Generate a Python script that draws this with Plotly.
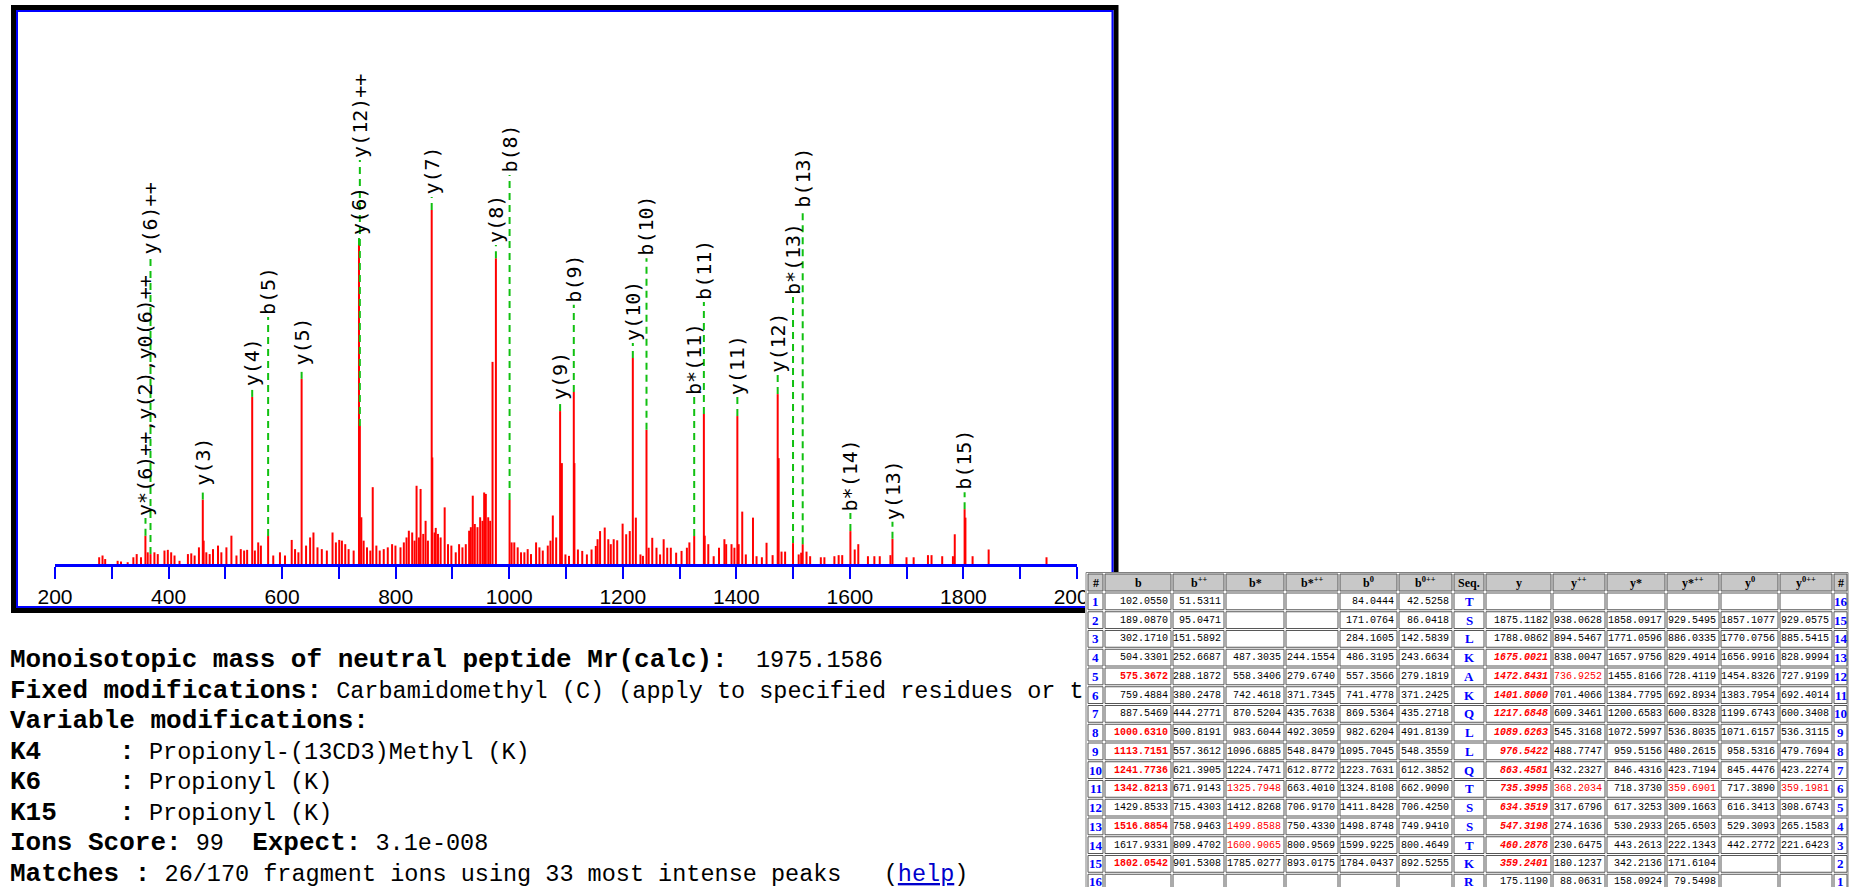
import plotly.graph_objects as go

W, H = 1853, 887

# ---------------- MS/MS spectrum: m/z and relative intensity (%) ----------------
peak_mz = [
    277.8, 283.7, 288.4, 310.3, 316.2, 328.0, 338.0, 343.9, 351.5, 359.24,
    363.3, 368.20, 375.1, 381.0, 392.8, 398.7, 404.6, 410.5, 419.3, 434.1,
    440.0, 445.9, 453.5, 460.29, 461.8, 466.5, 472.4, 478.3, 487.1, 493.0,
    501.9, 510.7, 519.6, 527.2, 533.1, 538.4, 547.32, 552.0, 557.9, 562.6,
    575.37, 584.4, 596.2, 605.1, 616.9, 622.8, 628.7, 634.35, 642.2, 649.3,
    655.2, 662.3, 669.9, 678.8, 688.8, 694.7, 700.6, 705.3, 711.2, 717.1,
    726.0, 735.40, 736.93, 739.5, 743.6, 749.5, 755.4, 759.6, 766.0, 771.9,
    779.0, 786.1, 793.7, 799.6, 808.5, 814.4, 819.1, 823.2, 829.1, 833.3,
    836.8, 841.0, 843.9, 848.6, 852.7, 856.8, 863.46, 864.5, 868.6, 870.6,
    874.5, 879.2, 886.3, 892.2, 898.1, 905.8, 911.7, 917.6, 923.5, 929.4,
    932.4, 935.8, 939.4, 944.1, 948.8, 952.9, 955.9, 958.8, 963.0, 966.5,
    970.6, 976.54, 1000.63, 1004.2, 1008.9, 1014.9, 1020.8, 1026.7, 1032.5, 1038.4,
    1047.3, 1053.2, 1059.1, 1067.9, 1072.6, 1076.8, 1082.7, 1089.63, 1092.7, 1099.0,
    1105.3, 1113.72, 1114.8, 1121.0, 1128.6, 1136.8, 1145.0, 1152.5, 1155.6, 1160.0,
    1168.2, 1174.5, 1178.9, 1184.0, 1190.2, 1199.7, 1206.0, 1212.3, 1217.68, 1223.0,
    1231.1, 1235.5, 1241.77, 1245.6, 1251.9, 1259.4, 1265.7, 1272.0, 1278.3, 1284.6,
    1294.0, 1303.5, 1312.9, 1317.3, 1325.79, 1342.82, 1344.3, 1350.6, 1360.1, 1369.5,
    1379.0, 1382.1, 1391.5, 1396.6, 1401.81, 1404.1, 1410.4, 1416.7, 1429.3, 1435.6,
    1445.0, 1453.2, 1463.9, 1472.84, 1474.5, 1479.6, 1485.9, 1499.86, 1509.8, 1514.2,
    1516.89, 1523.6, 1530.0, 1548.8, 1555.1, 1572.7, 1580.2, 1586.5, 1600.91, 1608.5,
    1614.8, 1631.8, 1643.1, 1652.6, 1671.4, 1675.00, 1699.7, 1712.3, 1737.5, 1743.8,
    1762.6, 1781.5, 1784.7, 1802.05, 1803.5, 1816.1, 1844.4, 1946.3,
]
peak_int = [
    1.9, 2.4, 1.4, 0.9, 0.7, 0.5, 1.9, 2.8, 1.9, 8.0,
    3.3, 2.8, 3.3, 2.8, 3.8, 4.0, 3.3, 2.4, 0.9, 2.8,
    3.0, 2.4, 4.7, 18.2, 6.6, 3.3, 2.8, 4.2, 5.2, 3.3,
    4.7, 8.0, 2.4, 4.2, 3.8, 4.0, 47.2, 3.8, 6.1, 5.2,
    7.9, 2.4, 3.3, 2.4, 6.8, 4.2, 3.3, 52.3, 5.2, 7.5,
    8.9, 4.7, 4.2, 3.8, 8.9, 6.1, 6.8, 6.6, 5.6, 4.2,
    3.8, 90.1, 39.0, 13.2, 6.6, 4.7, 3.8, 21.7, 5.2, 3.8,
    4.2, 4.7, 5.6, 5.2, 4.7, 6.1, 7.5, 9.4, 8.9, 6.6,
    22.1, 7.5, 21.2, 8.5, 12.2, 6.6, 100.0, 30.1, 8.9, 10.2,
    8.5, 7.5, 16.0, 5.6, 5.2, 3.3, 5.6, 4.7, 5.6, 9.4,
    10.4, 19.3, 11.3, 10.4, 13.2, 12.2, 20.2, 19.8, 13.2, 12.2,
    57.1, 86.4, 18.1, 6.1, 6.1, 4.7, 3.3, 3.3, 4.2, 2.8,
    6.1, 4.7, 3.8, 5.2, 6.6, 13.7, 7.5, 43.2, 28.5, 2.7,
    2.3, 48.6, 28.5, 4.1, 3.7, 2.7, 4.1, 5.1, 7.0, 9.3,
    10.3, 7.0, 5.6, 7.0, 6.7, 11.4, 8.4, 9.3, 58.2, 13.1,
    2.7, 2.3, 37.9, 4.6, 7.4, 4.6, 2.7, 7.0, 4.6, 4.6,
    3.2, 3.7, 4.6, 6.1, 7.9, 42.4, 8.0, 5.6, 2.2, 4.6,
    7.0, 5.6, 5.6, 4.6, 41.8, 5.6, 14.8, 2.7, 13.1, 2.2,
    1.9, 6.0, 2.5, 48.0, 29.9, 3.5, 3.5, 5.9, 2.7, 3.2,
    5.6, 3.5, 2.2, 1.9, 1.9, 2.2, 2.5, 2.5, 9.3, 4.1,
    5.6, 2.2, 2.2, 2.2, 2.5, 7.1, 1.9, 1.9, 2.5, 2.5,
    2.2, 2.2, 8.4, 15.5, 13.1, 2.2, 4.1, 1.9,
]

x_ticks = [200, 400, 600, 800, 1000, 1200, 1400, 1600, 1800, 2000]

# ---------------- fragment ion table ----------------
seq = ["T", "S", "L", "K", "A", "K", "Q", "L", "L", "Q", "T", "S", "S", "T", "K", "R"]
b_ion = [102.0550, 189.0870, 302.1710, 504.3301, 575.3672, 759.4884, 887.5469, 1000.6310,
         1113.7151, 1241.7736, 1342.8213, 1429.8533, 1516.8854, 1617.9331, 1802.0542, None]
b_2plus = [51.5311, 95.0471, 151.5892, 252.6687, 288.1872, 380.2478, 444.2771, 500.8191,
           557.3612, 621.3905, 671.9143, 715.4303, 758.9463, 809.4702, 901.5308, None]
b_star = [None, None, None, 487.3035, 558.3406, 742.4618, 870.5204, 983.6044,
          1096.6885, 1224.7471, 1325.7948, 1412.8268, 1499.8588, 1600.9065, 1785.0277, None]
b_star_2plus = [None, None, None, 244.1554, 279.6740, 371.7345, 435.7638, 492.3059,
                548.8479, 612.8772, 663.4010, 706.9170, 750.4330, 800.9569, 893.0175, None]
b_zero = [84.0444, 171.0764, 284.1605, 486.3195, 557.3566, 741.4778, 869.5364, 982.6204,
          1095.7045, 1223.7631, 1324.8108, 1411.8428, 1498.8748, 1599.9225, 1784.0437, None]
b_zero_2plus = [42.5258, 86.0418, 142.5839, 243.6634, 279.1819, 371.2425, 435.2718, 491.8139,
                548.3559, 612.3852, 662.9090, 706.4250, 749.9410, 800.4649, 892.5255, None]
y_ion = [None, 1875.1182, 1788.0862, 1675.0021, 1472.8431, 1401.8060, 1217.6848, 1089.6263,
         976.5422, 863.4581, 735.3995, 634.3519, 547.3198, 460.2878, 359.2401, 175.1190]
y_2plus = [None, 938.0628, 894.5467, 838.0047, 736.9252, 701.4066, 609.3461, 545.3168,
           488.7747, 432.2327, 368.2034, 317.6796, 274.1636, 230.6475, 180.1237, 88.0631]
y_star = [None, 1858.0917, 1771.0596, 1657.9756, 1455.8166, 1384.7795, 1200.6583, 1072.5997,
          959.5156, 846.4316, 718.3730, 617.3253, 530.2933, 443.2613, 342.2136, 158.0924]
y_star_2plus = [None, 929.5495, 886.0335, 829.4914, 728.4119, 692.8934, 600.8328, 536.8035,
                480.2615, 423.7194, 359.6901, 309.1663, 265.6503, 222.1343, 171.6104, 79.5498]
y_zero = [None, 1857.1077, 1770.0756, 1656.9916, 1454.8326, 1383.7954, 1199.6743, 1071.6157,
          958.5316, 845.4476, 717.3890, 616.3413, 529.3093, 442.2772, None, None]
y_zero_2plus = [None, 929.0575, 885.5415, 828.9994, 727.9199, 692.4014, 600.3408, 536.3115,
                479.7694, 423.2274, 359.1981, 308.6743, 265.1583, 221.6423, None, None]

# rows (1-based) whose value matched a peak, per column
matched_b = [5, 8, 9, 10, 11, 13, 15]
matched_b_star = [11, 13, 14]
matched_y = [4, 5, 6, 7, 8, 9, 10, 11, 12, 13, 14, 15]
matched_y_2plus = [5, 11]
matched_y_star_2plus = [11]
matched_y_zero_2plus = [11]

n_res = len(seq)


def b_of(n):          # b(n) lives in row n
    return b_ion[n - 1]


def y_of(n):          # y(n) lives in row (n_res + 1 - n)
    return y_ion[n_res - n]


# ---------------- peak annotations ----------------
label_text = ["y*(6)++,y(2),y0(6)++", "y(6)++", "y(3)", "y(4)", "b(5)", "y(5)", "y(6)", "y(12)++",
              "y(7)", "y(8)", "b(8)", "y(9)", "b(9)", "y(10)", "b(10)", "b*(11)", "b(11)",
              "y(11)", "y(12)", "b*(13)", "b(13)", "b*(14)", "y(13)", "b(15)"]
label_mz = [
    (y_star_2plus[10] + y_of(2) + y_zero_2plus[10]) / 3.0,
    y_2plus[10], y_of(3), y_of(4), b_of(5), y_of(5), y_of(6), y_2plus[4],
    y_of(7), y_of(8), b_of(8), y_of(9), b_of(9), y_of(10), b_of(10), b_star[10], b_of(11),
    y_of(11), y_of(12), b_star[12], b_of(13), b_star[13], y_of(13), b_of(15),
]
# vertical level (same units as intensity) where each rotated label starts
label_level = [13.0, 86.7, 21.5, 49.7, 69.8, 55.4, 92.4, 114.1,
               103.7, 90.1, 109.9, 45.8, 73.2, 62.4, 86.4, 47.2, 74.0,
               47.2, 53.4, 75.4, 100.0, 14.4, 11.9, 20.3]

# ---------------- geometry helpers (pixel -> paper) ----------------
PLOT_L, PLOT_R = 55, 1077
BASE_Y, TOP_Y = 564, 12
PX_PER_UNIT = 3.54


def px(x):
    return x / W


def py(y):
    return 1 - y / H


fig = go.Figure()

# stick spectrum
sx, sy = [], []
for m, v in zip(peak_mz, peak_int):
    sx += [m, m, None]
    sy += [0, v, None]
fig.add_trace(go.Scatter(x=sx, y=sy, mode="lines", line=dict(color="#ff0000", width=2),
                         hoverinfo="skip", showlegend=False))

# dashed connectors from matched peak to its label
dx, dy = [], []
for m, lvl in zip(label_mz, label_level):
    j = min(range(len(peak_mz)), key=lambda k: abs(peak_mz[k] - m))
    dx += [m, m, None]
    dy += [peak_int[j], lvl, None]
fig.add_trace(go.Scatter(x=dx, y=dy, mode="lines",
                         line=dict(color="#11c011", width=2, dash="7px,5px"),
                         hoverinfo="skip", showlegend=False))

annotations = []
for t, m, lvl in zip(label_text, label_mz, label_level):
    annotations.append(dict(x=m, y=lvl, xref="x", yref="y", text=t, textangle=-90,
                            xanchor="center", yanchor="bottom", showarrow=False,
                            font=dict(family="DejaVu Sans Mono", size=20, color="black")))

# result summary text
REG = "<span style='font-size:23.5px'>{}</span>"
summary = [
    "<b>Monoisotopic mass of neutral peptide Mr(calc):</b>" + REG.format("  1975.1586"),
    "<b>Fixed modifications:</b>" + REG.format(" Carbamidomethyl (C) (apply to specified residues or t"),
    "<b>Variable modifications:</b>",
    "<b>K4     :</b>" + REG.format(" Propionyl-(13CD3)Methyl (K)"),
    "<b>K6     :</b>" + REG.format(" Propionyl (K)"),
    "<b>K15    :</b>" + REG.format(" Propionyl (K)"),
    "<b>Ions Score:</b>" + REG.format(" 99  ") + "<b>Expect:</b>" + REG.format(" 3.1e-008"),
    "<b>Matches :</b>" + REG.format(" 26/170 fragment ions using 33 most intense peaks   (")
    + "<span style='font-size:23.5px;color:#0000cc;text-decoration:underline'>help</span>"
    + REG.format(")"),
]
for i, line in enumerate(summary):
    annotations.append(dict(x=px(8), y=py(660 + 30.5 * i), xref="paper", yref="paper",
                            text=line, xanchor="left", yanchor="middle", showarrow=False,
                            align="left",
                            font=dict(family="Liberation Mono", size=26, color="black")))

# frame round the spectrum
shapes = [
    dict(type="rect", xref="paper", yref="paper", x0=px(13.5), x1=px(1116), y0=py(7.5), y1=py(610.5),
         line=dict(color="black", width=5), layer="above"),
    dict(type="rect", xref="paper", yref="paper", x0=px(17), x1=px(1112.5), y0=py(11), y1=py(607),
         line=dict(color="#0000ff", width=2), layer="above"),
]

# ---------------- fragment table drawn as cells ----------------
def fmt(v):
    return "" if v is None else "%.4f" % v


def column(vals, matched, style):
    txt, col = [], []
    for r, v in enumerate(vals, start=1):
        s = fmt(v)
        if r in matched and s:
            if style == "b":
                s = "<b>%s</b>" % s
            elif style == "bi":
                s = "<b><i>%s</i></b>" % s
            col.append("#ff0000")
        else:
            col.append("black")
        txt.append(s)
    return txt, col


blue = "#0000ff"
num_cols = [
    column(b_ion, matched_b, "b"),
    column(b_2plus, [], ""),
    column(b_star, matched_b_star, ""),
    column(b_star_2plus, [], ""),
    column(b_zero, [], ""),
    column(b_zero_2plus, [], ""),
    (["<b>%s</b>" % s for s in seq], [blue] * n_res),
    column(y_ion, matched_y, "bi"),
    column(y_2plus, matched_y_2plus, ""),
    column(y_star, [], ""),
    column(y_star_2plus, matched_y_star_2plus, ""),
    column(y_zero, [], ""),
    column(y_zero_2plus, matched_y_zero_2plus, ""),
]
table_cols = ([(["<b>%d</b>" % i for i in range(1, n_res + 1)], [blue] * n_res)]
              + num_cols
              + [(["<b>%d</b>" % i for i in range(n_res, 0, -1)], [blue] * n_res)])

header = ["#", "b", "b<sup>++</sup>", "b*", "b*<sup>++</sup>", "b<sup>0</sup>", "b<sup>0++</sup>",
          "Seq.", "y", "y<sup>++</sup>", "y*", "y*<sup>++</sup>", "y<sup>0</sup>", "y<sup>0++</sup>", "#"]

col_w = [17, 68, 53, 60, 54, 59, 55, 32, 67, 54, 60, 54, 59, 54, 15]
text_kind = ["idx"] + ["num"] * 6 + ["seq"] + ["num"] * 6 + ["idx"]

T_LEFT, T_TOP, HEAD_H, ROW_H = 1087, 573, 19, 18.75
T_RIGHT = T_LEFT + sum(col_w)
T_BOTTOM = T_TOP + HEAD_H + ROW_H * n_res
GRID = "#575757"

# white ground under the table
shapes.append(dict(type="rect", xref="paper", yref="paper", x0=px(T_LEFT - 2), x1=px(T_RIGHT + 1),
                   y0=py(T_TOP - 1), y1=py(min(T_BOTTOM, H)), fillcolor="white",
                   line=dict(width=0), layer="above"))
shapes.append(dict(type="rect", xref="paper", yref="paper", x0=px(T_LEFT - 1), x1=px(T_RIGHT),
                   y0=py(T_TOP - 0.5), y1=py(T_BOTTOM), fillcolor="rgba(0,0,0,0)",
                   line=dict(color="#808080", width=1), layer="above"))

edges = [T_LEFT]
for w in col_w:
    edges.append(edges[-1] + w)

for c in range(len(col_w)):
    xl, xr = edges[c], edges[c + 1]
    # header cell
    shapes.append(dict(type="rect", xref="paper", yref="paper", x0=px(xl + 1), x1=px(xr - 1),
                       y0=py(T_TOP + 1), y1=py(T_TOP + HEAD_H - 1), fillcolor="#c8c8c8",
                       line=dict(color=GRID, width=1), layer="above"))
    annotations.append(dict(x=px((xl + xr) / 2), y=py(T_TOP + HEAD_H / 2), xref="paper", yref="paper",
                            text="<b>%s</b>" % header[c], showarrow=False,
                            xanchor="center", yanchor="middle",
                            font=dict(family="Liberation Serif", size=12, color="black")))
    texts, colors = table_cols[c]
    for r in range(n_res):
        yt = T_TOP + HEAD_H + ROW_H * r
        shapes.append(dict(type="rect", xref="paper", yref="paper", x0=px(xl + 1), x1=px(xr - 1),
                           y0=py(yt + 1), y1=py(yt + ROW_H - 1), fillcolor="white",
                           line=dict(color=GRID, width=1), layer="above"))
        if not texts[r]:
            continue
        yc = min(yt + ROW_H / 2, H - 6)
        if text_kind[c] == "num":
            annotations.append(dict(x=px(xr - 2), y=py(yc), xref="paper", yref="paper",
                                    text=texts[r], showarrow=False, xanchor="right", yanchor="middle",
                                    font=dict(family="Liberation Mono", size=10, color=colors[r])))
        else:
            annotations.append(dict(x=px((xl + xr) / 2), y=py(yc), xref="paper", yref="paper",
                                    text=texts[r], showarrow=False, xanchor="center", yanchor="middle",
                                    font=dict(family="Liberation Serif", size=13, color=colors[r])))

fig.update_layout(
    width=W, height=H,
    autosize=False,
    margin=dict(l=0, r=0, t=0, b=0, pad=0),
    paper_bgcolor="white", plot_bgcolor="white",
    showlegend=False,
    xaxis=dict(domain=[px(PLOT_L), px(PLOT_R)], range=[200, 2000], automargin=False,
               showline=True, linecolor="#0000ff", linewidth=3,
               ticks="outside", ticklen=12, tickwidth=2, tickcolor="#0000ff",
               tickvals=x_ticks, ticktext=[str(t) for t in x_ticks],
               minor=dict(dtick=100, tick0=200, ticks="outside", ticklen=12, tickwidth=2,
                          tickcolor="#0000ff", showgrid=False),
               showgrid=False, zeroline=False, fixedrange=True,
               tickfont=dict(family="Liberation Sans", size=21, color="black")),
    yaxis=dict(domain=[py(BASE_Y), py(TOP_Y)], range=[0, (BASE_Y - TOP_Y) / PX_PER_UNIT],
               visible=False, fixedrange=True, automargin=False),
    annotations=annotations,
    shapes=shapes,
)

fig.write_html("out.html", config={"displayModeBar": False})
